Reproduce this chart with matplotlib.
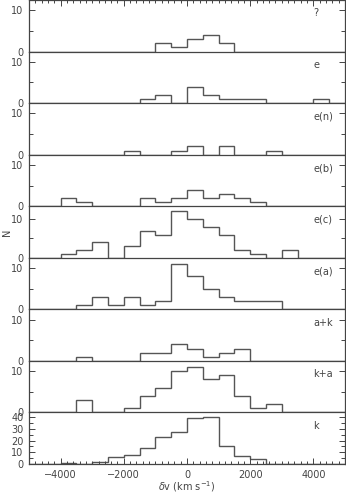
import numpy as np
import matplotlib
matplotlib.use('Agg')
import matplotlib.pyplot as plt
from matplotlib.ticker import MultipleLocator

# velocity bins, 500 km/s wide
edges = np.arange(-5000, 5001, 500)

labels = ['?', 'e', 'e(n)', 'e(b)', 'e(c)', 'e(a)', 'a+k', 'k+a', 'k']

n_q = [0, 0, 0, 0, 0, 0, 0, 0, 2, 1, 3, 4, 2, 0, 0, 0, 0, 0, 0, 0]
n_e = [0, 0, 0, 0, 0, 0, 0, 1, 2, 0, 4, 2, 1, 1, 1, 0, 0, 0, 1, 0]
n_en = [0, 0, 0, 0, 0, 0, 1, 0, 0, 1, 2, 0, 2, 0, 0, 1, 0, 0, 0, 0]
n_eb = [0, 0, 2, 1, 0, 0, 0, 2, 1, 2, 4, 2, 3, 2, 1, 0, 0, 0, 0, 0]
n_ec = [0, 0, 1, 2, 4, 0, 3, 7, 6, 12, 10, 8, 6, 2, 1, 0, 2, 0, 0, 0]
n_ea = [0, 0, 0, 1, 3, 1, 3, 1, 2, 11, 8, 5, 3, 2, 2, 2, 0, 0, 0, 0]
n_ak = [0, 0, 0, 1, 0, 0, 0, 2, 2, 4, 3, 1, 2, 3, 0, 0, 0, 0, 0, 0]
n_ka = [0, 0, 0, 3, 0, 0, 1, 4, 6, 10, 11, 8, 9, 4, 1, 2, 0, 0, 0, 0]
n_k = [0, 0, 1, 0, 2, 6, 8, 14, 23, 27, 39, 40, 15, 7, 4, 0, 0, 0, 0, 0]

counts = [n_q, n_e, n_en, n_eb, n_ec, n_ea, n_ak, n_ka, n_k]
ymax = [12.5, 12.5, 12.5, 12.5, 13.3, 12.5, 12.5, 12.5, 44]

line_col = '#555555'
text_col = '#444444'

fig = plt.figure(figsize=(3.46, 4.99), dpi=100)
left, right = 29 / 346, 345 / 346
top, bottom = 1.0, (499 - 464) / 499
h = (top - bottom) / len(labels)

for i, (lab, n) in enumerate(zip(labels, counts)):
    ax = fig.add_axes([left, top - (i + 1) * h, right - left, h])
    ax.patch.set_visible(False)
    ax.stairs(n, edges, color=line_col, lw=1.0)
    ax.set_xlim(-5000, 5000)
    ax.set_ylim(0, ymax[i])
    for s in ax.spines.values():
        s.set_color('#444444')
        s.set_linewidth(0.9)
    ax.spines['top'].set_visible(i == 0)
    ax.xaxis.set_major_locator(MultipleLocator(2000))
    ax.xaxis.set_minor_locator(MultipleLocator(200))
    ax.yaxis.set_major_locator(MultipleLocator(10))
    ax.yaxis.set_minor_locator(MultipleLocator(5))
    ax.tick_params(axis='both', which='both', direction='in', colors='#444444',
                   labelcolor=text_col, labelsize=7, width=0.7)
    ax.tick_params(axis='y', which='major', length=4, pad=4, left=True, right=True)
    ax.tick_params(axis='y', which='minor', length=3, left=True, right=True)
    ax.tick_params(axis='x', which='major', length=4, pad=4)
    ax.tick_params(axis='x', which='minor', length=2)
    ax.tick_params(axis='x', which='both', top=(i == 0), bottom=(i == len(labels) - 1),
                   labelbottom=(i == len(labels) - 1))
    ax.text(4000, 0.74, lab, transform=ax.get_xaxis_transform(),
            ha='left', va='center', fontsize=7, color=text_col)

fig.text(187 / 346, 1 - 487 / 499, r'$\delta$v (km s$^{-1}$)', fontsize=7,
         color=text_col, ha='center', va='center')
fig.text(7 / 346, 1 - 232 / 499, 'N', fontsize=7, color=text_col,
         rotation=90, ha='center', va='center')

fig.savefig('out.png', dpi=100)
